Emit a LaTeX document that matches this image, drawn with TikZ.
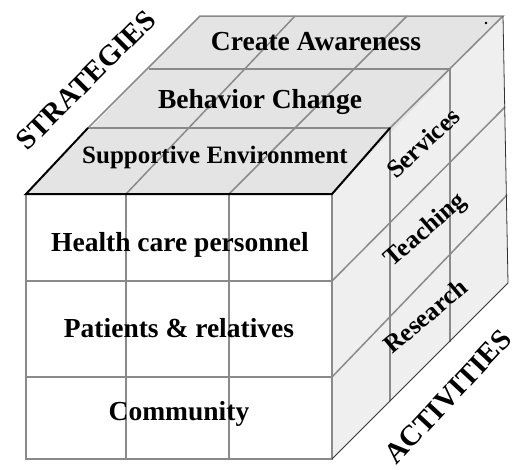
\documentclass[tikz,border=0pt]{standalone}
\usepackage{fontspec}
\setmainfont{Liberation Serif}
\definecolor{topf}{HTML}{E4E4E4}
\definecolor{sidef}{HTML}{EFEFEF}
\definecolor{gridc}{HTML}{8A8A8A}
\begin{document}
\begin{tikzpicture}[x=1pt,y=-1pt,
  gridline/.style={draw=gridc,line width=1.5pt},
  edgeline/.style={draw=black,line width=2pt,line cap=round},
  thinedge/.style={draw=black!80,line width=0.8pt},
  facelabel/.style={font=\fontsize{27.5}{30}\selectfont\bfseries,anchor=base,inner sep=0pt},
  sidelabel/.style={font=\fontsize{25.5}{28}\selectfont\bfseries,inner sep=0pt},
  axislabel/.style={font=\fontsize{29}{34}\selectfont\bfseries,inner sep=0pt}]
\useasboundingbox (0,0) rectangle (519,469);
% corners
\coordinate (FTL) at (26,194);
\coordinate (FTR) at (332,194);
\coordinate (FBL) at (26,459);
\coordinate (FBR) at (332,459);
\coordinate (BTL) at (200,16);
\coordinate (BTR) at (503,16);
\coordinate (BBR) at (508,283);
% faces
\fill[topf] (FTL) -- (FTR) -- (BTR) -- (BTL) -- cycle;
\fill[sidef] (FTR) -- (BTR) -- (BBR) -- (FBR) -- cycle;
\fill[white] (FTL) -- (FTR) -- (FBR) -- (FBL) -- cycle;
% top face grid
\coordinate (TL1) at (88,128);  \coordinate (TR1) at (390,128);
\coordinate (TL2) at (149,69);  \coordinate (TR2) at (450,69);
\coordinate (TF1) at (126,194); \coordinate (TB1) at (295,16);
\coordinate (TF2) at (229,194); \coordinate (TB2) at (407,16);
\draw[gridline] (TL1) -- (TR1);
\draw[gridline] (TL2) -- (TR2);
\draw[gridline] (TF1) -- (TB1);
\draw[gridline] (TF2) -- (TB2);
\draw[gridline] (TL1) -- (BTL) -- (BTR) -- (TR1);
% right face grid
\coordinate (RV1b) at (390,401); \coordinate (RV2b) at (450,342);
\coordinate (RH1a) at (332,281); \coordinate (RH1b) at (505,107);
\coordinate (RH2a) at (332,377); \coordinate (RH2b) at (507,195);
\draw[gridline] (TR1) -- (RV1b);
\draw[gridline] (TR2) -- (RV2b);
\draw[gridline] (RH1a) -- (RH1b);
\draw[gridline] (RH2a) -- (RH2b);
% front face grid
\coordinate (FB1) at (126,459); \coordinate (FB2) at (229,459);
\coordinate (FL1) at (26,281);  \coordinate (FR1) at (332,281);
\coordinate (FL2) at (26,377);  \coordinate (FR2) at (332,377);
\draw[gridline] (TF1) -- (FB1);
\draw[gridline] (TF2) -- (FB2);
\draw[gridline] (FL1) -- (FR1);
\draw[gridline] (FL2) -- (FR2);
\draw[gridline] (FTL) -- (FBL) -- (FBR) -- (FTR);
% outer right edges
\draw[thinedge] (FBR) -- (BBR) -- (BTR);
% black front slab edges
\draw[edgeline] (TL1) -- (FTL) -- (FTR) -- (TR1);
% stray dot
\fill[black] (486,23) circle (1.3);
% texts
\node[facelabel] (aware) at (316,50) {Create Awareness};
\node[facelabel] (behav) at (260,108) {Behavior Change};
\node[facelabel,font=\fontsize{25}{28}\selectfont\bfseries] (supp) at (215,163) {Supportive Environment};
\node[facelabel] (hcp) at (180,251) {Health care personnel};
\node[facelabel] (pat) at (179,337) {Patients \& relatives};
\node[facelabel] (com) at (179,420) {Community};
\node[sidelabel,rotate=43] (serv) at (423,143) {Services};
\node[sidelabel,rotate=41] (teach) at (426,231) {Teaching};
\node[sidelabel,rotate=40] (res) at (425,316) {Research};
\node[axislabel,rotate=45] (strat) at (86,80) {STRATEGIES};
\node[axislabel,rotate=47] (act) at (448,397) {ACTIVITIES};
\end{tikzpicture}
\end{document}
